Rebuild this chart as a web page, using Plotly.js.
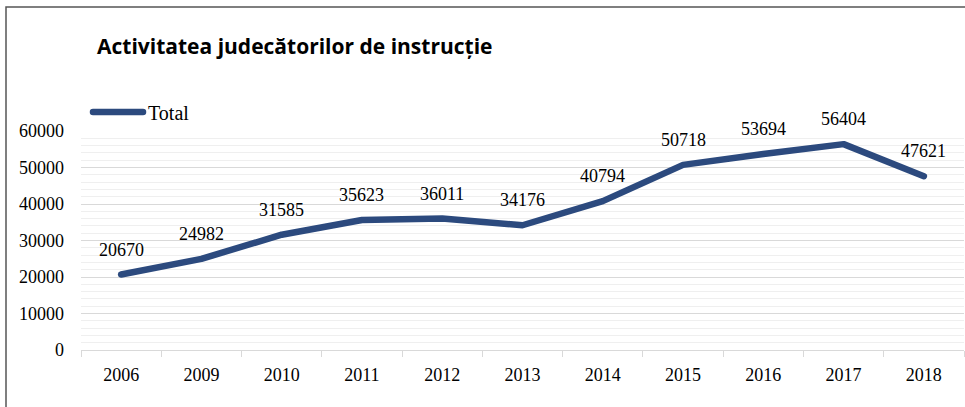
<!DOCTYPE html>
<html>
<head>
<meta charset="utf-8">
<script src="https://cdn.plot.ly/plotly-3.0.1.min.js"></script>
<style>html,body{margin:0;padding:0;background:#fff;}#chart{width:965px;height:407px;}
.scatterlayer .js-line, .legendlines path {stroke-linecap: round; stroke-linejoin: round;}</style>
</head>
<body>
<div id="chart"></div>
<script>
const years = ["2006","2009","2010","2011","2012","2013","2014","2015","2016","2017","2018"];
const totals = [20670, 24982, 31585, 35623, 36011, 34176, 40794, 50718, 53694, 56404, 47621];
const seriesName = "Total";
const chartTitle = "Activitatea judecătorilor de instrucție";

const serif = "Liberation Serif, Times New Roman, serif";
const lineColor = "#2c4a7e";
const PW = 883, PH = 219;

const trace = {
  x: years, y: totals, type: "scatter", mode: "lines", name: seriesName,
  line: {color: lineColor, width: 6.5},
  hoverinfo: "skip"
};

const annotations = years.map((yr, i) => ({
  x: i, y: totals[i], xref: "x", yref: "y", text: String(totals[i]),
  showarrow: false, yshift: 25, font: {family: serif, size: 18, color: "#000"}
}));

const layout = {
  width: 965, height: 407,
  margin: {l: 81, r: 1, t: 131, b: 57},
  paper_bgcolor: "#fff", plot_bgcolor: "#fff",
  title: {text: "<b>" + chartTitle + "</b>", x: 97/965, xref: "container", xanchor: "left",
          y: 1 - 47/407, yref: "container", yanchor: "middle",
          font: {family: "Open Sans, sans-serif", size: 21, color: "#000"}},
  showlegend: true,
  legend: {x: 7/PW, xref: "paper", xanchor: "left", y: 1 + 19/PH, yref: "paper", yanchor: "middle",
           itemwidth: 50,
           font: {family: serif, size: 20, color: "#000"}, bgcolor: "rgba(0,0,0,0)", borderwidth: 0},
  xaxis: {type: "category", range: [-0.5, 10.5], tickson: "boundaries", ticks: "outside", ticklen: 6,
          tickcolor: "#d9d9d9", showline: true, linecolor: "#d9d9d9", linewidth: 1, showgrid: false,
          ticklabelstandoff: 8, tickfont: {family: serif, size: 18, color: "#000"}, fixedrange: true,
          automargin: false},
  yaxis: {range: [0, 60000], dtick: 10000, tickformat: "d", showgrid: true, gridcolor: "#d9d9d9", gridwidth: 1,
          minor: {dtick: 2000, showgrid: true, gridcolor: "#efefef", gridwidth: 1},
          zeroline: false, showline: false, ticks: "", ticklabelstandoff: 16,
          tickfont: {family: serif, size: 18, color: "#000"}, fixedrange: true, automargin: false},
  annotations: annotations,
  shapes: [{type: "rect", xref: "paper", yref: "paper",
            x0: (6 - 81)/PW, x1: 1 + 10/PW, y0: -67/PH, y1: 1 + 124/PH,
            line: {color: "#555", width: 1.5}, fillcolor: "rgba(0,0,0,0)", layer: "below"}]
};

Plotly.newPlot("chart", [trace], layout, {displayModeBar: false, staticPlot: true});
</script>
</body>
</html>
